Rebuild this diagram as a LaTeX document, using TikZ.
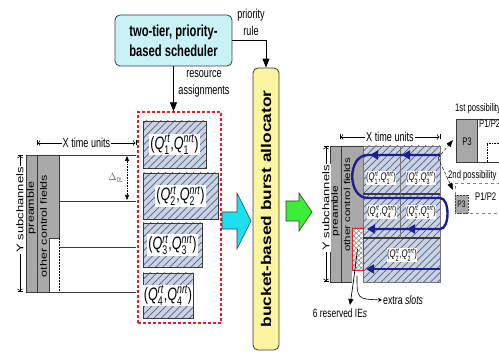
\documentclass[tikz,border=0pt]{standalone}
\usepackage{fontspec}
\usepackage{amsmath}
\usepackage{graphicx}
\setmainfont{Liberation Sans}[FakeStretch=0.7]
\newfontfamily\rotsans{Liberation Sans}
\newfontfamily\rotwide{Liberation Sans}[FakeStretch=1.05]
\usetikzlibrary{arrows.meta,patterns.meta}
\definecolor{schedfill}{HTML}{C8F2F6}
\definecolor{allocfill}{HTML}{FCF5A0}
\definecolor{hatchbg}{HTML}{CAD3E3}
\definecolor{hatchln}{HTML}{52607F}
\definecolor{navy}{HTML}{1B208C}
\definecolor{redd}{HTML}{E31E24}
\definecolor{cyanar}{HTML}{1CE0EF}
\definecolor{greenar}{HTML}{3CEE36}
\definecolor{dk}{HTML}{3A3A3A}
\definecolor{colgray}{HTML}{A9A9A9}
\newcommand{\Qpair}[1]{(\textit{Q}$^{\textit{rt}}_{\text{#1}}$,\textit{Q}$^{\textit{nrt}}_{\text{#1}}$)}
\newcommand{\vsq}[2][0.75]{\scalebox{1}[#1]{#2}}
\tikzset{
  sched/.style={draw=dk, fill=schedfill, rounded corners=5pt, line width=0.8pt,
    minimum width=117pt, minimum height=51pt, inner sep=0pt, align=center,
    font=\fontsize{16}{20}\selectfont\bfseries},
  allocbox/.style={draw=dk, fill=allocfill, rounded corners=5pt, line width=0.8pt,
    minimum width=26pt, minimum height=282pt, inner sep=0pt},
  grp/.style={draw=redd, dashed, dash pattern=on 3pt off 2pt, line width=1.4pt,
    minimum width=83pt, minimum height=211pt, inner sep=0pt},
  qbox/.style={draw=dk, line width=0.6pt, inner sep=0pt,
    preaction={fill=hatchbg},
    pattern={Lines[angle=45,distance=5pt,line width=0.7pt]}, pattern color=hatchln},
  qlbl/.style={fill=white, inner sep=1pt, font=\fontsize{18}{20}\selectfont},
  qsm/.style={fill=white, inner sep=0.5pt, font=\fontsize{11}{12}\selectfont},
  lbl/.style={inner sep=1pt, align=center, font=\fontsize{13}{17}\selectfont},
  sm/.style={inner sep=1pt, font=\fontsize{11}{13}\selectfont},
  arr/.style={line width=0.9pt, -{Triangle[length=9pt,width=7pt]}},
  dimarr/.style={line width=0.5pt, |<->|},
  rotlbl/.style={rotate=90, fill=white, inner sep=1pt},
  frm/.style={draw=dk, line width=0.7pt},
  bluepath/.style={draw=navy, line width=2.4pt},
  bluetip/.style={navy, line width=2.4pt, -{Triangle[length=8pt,width=9pt]}},
  blockarr/.style={draw=dk, line width=0.6pt}
}
\begin{document}
\begin{tikzpicture}[x=1pt,y=-1pt]
\useasboundingbox (0,0) rectangle (499,352);
\clip (0,0) rectangle (499,352);

% scheduler and allocator
\node[sched] (sched) at (173.5,40.5) {two-tier, priority-\\based scheduler};
\node[allocbox] (alloc) at (266,209) {};
\node[rotate=90, inner sep=0pt, font=\rotwide\bfseries\fontsize{16.5}{17}\selectfont] (alloctext) at (alloc.center) {\vsq[0.85]{bucket-based burst allocator}};

% red dashed group
\node[grp] (grp) at (179.5,217.5) {};
\draw[arr] (sched.south) -- (sched.south |- grp.north);
\node[lbl] (resl) at (204,83.5) {resource\\assignments};
\draw[arr] (sched.east) -| (alloc.north);
\node[lbl] (prl) at (251,22) {priority\\rule};

% Q boxes
\node[qbox, minimum width=63pt, minimum height=47pt] (q1) at (174.5,144.5) {};
\node[qbox, minimum width=75pt, minimum height=46pt] (q2) at (180.5,196) {};
\node[qbox, minimum width=59pt, minimum height=44pt] (q3) at (172.5,245) {};
\node[qbox, minimum width=50pt, minimum height=45pt] (q4) at (168,295.5) {};
\node[qlbl] (q1l) at (q1) {\Qpair{1}};
\node[qlbl] (q2l) at (q2) {\Qpair{2}};
\node[qlbl] (q3l) at (q3) {\Qpair{3}};
\node[qlbl] (q4l) at (q4) {\Qpair{4}};

% left frame
\fill[colgray] (26,155) rectangle (37,292);
\fill[colgray] (37,155) -- (59,155) -- (59,238) -- (49,238) -- (49,292) -- (37,292) -- cycle;
\draw[frm] (26,155) rectangle (37,292);
\draw[frm] (37,155) -- (59,155) -- (59,238) -- (49,238) -- (49,292);
\draw[line width=0.5pt, densely dotted] (59,238) -- (59,292);
\draw[frm] (26,155) -- (136,155);
\draw[frm] (59,201) -- (136,201);
\draw[frm] (59,247) -- (136,247);
\draw[frm] (26,292) -- (136,292);
\draw[dimarr] (37,143) -- (136,143) node[midway, fill=white, inner sep=1pt, font=\fontsize{13}{15}\selectfont] {X time units};
\draw[dimarr] (20,292) -- (20,155);
\node[rotlbl, font=\rotsans\fontsize{13}{15}\selectfont] (ysl) at (20,210) {\vsq{Y subchannels}};
\node[rotate=90, inner sep=0pt, font=\rotsans\fontsize{12.5}{15}\selectfont] (prel) at (31.5,208) {\vsq{preamble}};
\node[rotate=90, inner sep=0pt, font=\rotsans\fontsize{12.5}{13}\selectfont] (ocfl) at (43.5,226) {\vsq{other control fields}};
\draw[densely dotted, line width=0.6pt, {Triangle[length=5pt,width=4pt]}-{Triangle[length=5pt,width=4pt]}] (127,156) -- (127,200);
\node[inner sep=0pt, text=dk!80, font=\fontsize{10}{12}\selectfont] (dl) at (116,178) {$\Delta$\textsubscript{DL}};

% block arrows
\draw[blockarr, fill=cyanar] (222,212) -- (237,212) -- (237,193) -- (251,221) -- (237,249) -- (237,229) -- (222,229) -- cycle;
\draw[blockarr, fill=greenar] (286,201) -- (299,201) -- (299,193) -- (312,212) -- (299,231) -- (299,221) -- (286,221) -- cycle;

% right frame
\fill[colgray] (330,146) rectangle (341,282);
\fill[colgray] (341,146) -- (363,146) -- (363,228) -- (352,228) -- (352,282) -- (341,282) -- cycle;
\draw[frm] (330,146) rectangle (341,282);
\draw[frm] (341,146) -- (363,146);
\draw[frm] (341,282) -- (352,282);
\fill[hatchbg] (363,146) rectangle (440,282);
\fill[pattern={Lines[angle=45,distance=5pt,line width=0.7pt]}, pattern color=hatchln] (363,146) rectangle (440,282);
\draw[draw=dk!70, line width=0.6pt] (363,146) rectangle (440,282);
\node[draw=redd, line width=0.7pt, minimum width=11pt, minimum height=42pt, inner sep=0pt, preaction={fill=white},
  pattern={Hatch[angle=45,distance=3.5pt,line width=0.5pt]}, pattern color=gray] (xh) at (357.5,249) {};
\draw[line width=1.2pt, dk] (363,194) -- (440,194);
\draw[line width=1.2pt, dk] (363,238) -- (440,238);
\draw[line width=0.6pt, dk!70] (400,146) -- (400,238);
\node[qsm] (r11) at (381,178) {\Qpair{1}};
\node[qsm] (r13) at (421,178) {\Qpair{3}};
\node[qsm] (r24) at (382,212) {\Qpair{4}};
\node[qsm] (r21) at (421,212) {\Qpair{1}};
\node[qsm] (r32) at (402,255) {\Qpair{2}};
\draw[bluepath] (440,155) -- (368,155) .. controls (347,155) and (347,198) .. (368,198) -- (440,198) .. controls (450,198) and (450,229) .. (440,229) -- (370,229);
\draw[bluetip] (412,155) -- (402,155);
\draw[bluetip] (380,155) -- (370,155);
\draw[bluetip] (417,229) -- (407,229);
\draw[bluetip] (377,229) -- (367,229);
\draw[bluetip] (440,269) -- (366,269);
\draw[dimarr] (340,137) -- (440,137) node[midway, fill=white, inner sep=1pt, font=\fontsize{13}{15}\selectfont] {X time units};
\draw[dimarr] (326,282) -- (326,146);
\node[rotlbl, font=\rotsans\fontsize{13}{15}\selectfont] (ysr) at (326,208) {\vsq{Y subchannels}};
\node[rotate=90, inner sep=0pt, font=\rotsans\fontsize{12}{14}\selectfont] (prer) at (335.5,211) {\vsq{preamble}};
\node[rotate=90, inner sep=0pt, font=\rotsans\fontsize{11.5}{13}\selectfont] (ocfr) at (347,205) {\vsq{other control fields}};

% annotations below
\node[font=\fontsize{12}{14}\selectfont, inner sep=1pt] (ies) at (340,313) {6 reserved IE\textit{s}};
\coordinate (iestip) at (350,305);
\draw[line width=0.7pt, -{Triangle[length=6pt,width=5pt]}] (xh.center) .. controls (353,285) .. (iestip);
\node[font=\fontsize{12.5}{14}\selectfont, inner sep=1pt, anchor=west] (xs) at (382,300) {extra \textit{slots}};
\draw[line width=0.6pt, -{Stealth[length=4pt,width=4pt]}] (357,276) .. controls (357,299) .. (xs.west);

% possibilities
\node[sm, anchor=west] (p1t) at (454,109) {1st possibility};
\fill[colgray] (456,119) rectangle (477,162);
\draw[frm] (506,119) -- (456,119) -- (456,162) -- (506,162);
\draw[frm] (477,119) -- (477,162);
\draw[densely dotted, line width=0.6pt] (487,162) -- (487,143) -- (506,143);
\node[sm] (p1a) at (467,142) {P3};
\node[sm, anchor=west] (p1b) at (478,124) {P1/P2};
\node[sm, anchor=west] (p2t) at (447,176) {2nd possibility};
\draw[dashed, line width=0.5pt, gray] (506,183) -- (455,183) -- (455,213) -- (506,213);
\fill[colgray] (455,195) rectangle (468,213);
\draw[densely dotted, line width=0.5pt, dk] (455,195) rectangle (468,213);
\node[sm, font=\fontsize{9.5}{11}\selectfont] (p2a) at (461.5,204) {P3};
\node[sm, anchor=west] (p2b) at (474,197) {P1/P2};
\coordinate (fr) at (438,158);
\draw[densely dashed, line width=0.5pt, -{Triangle[length=7pt,width=5pt]}] (fr) -- (453,140);
\draw[densely dashed, line width=0.5pt, -{Triangle[length=7pt,width=5pt]}] (fr) -- (453,190);
\end{tikzpicture}
\end{document}
